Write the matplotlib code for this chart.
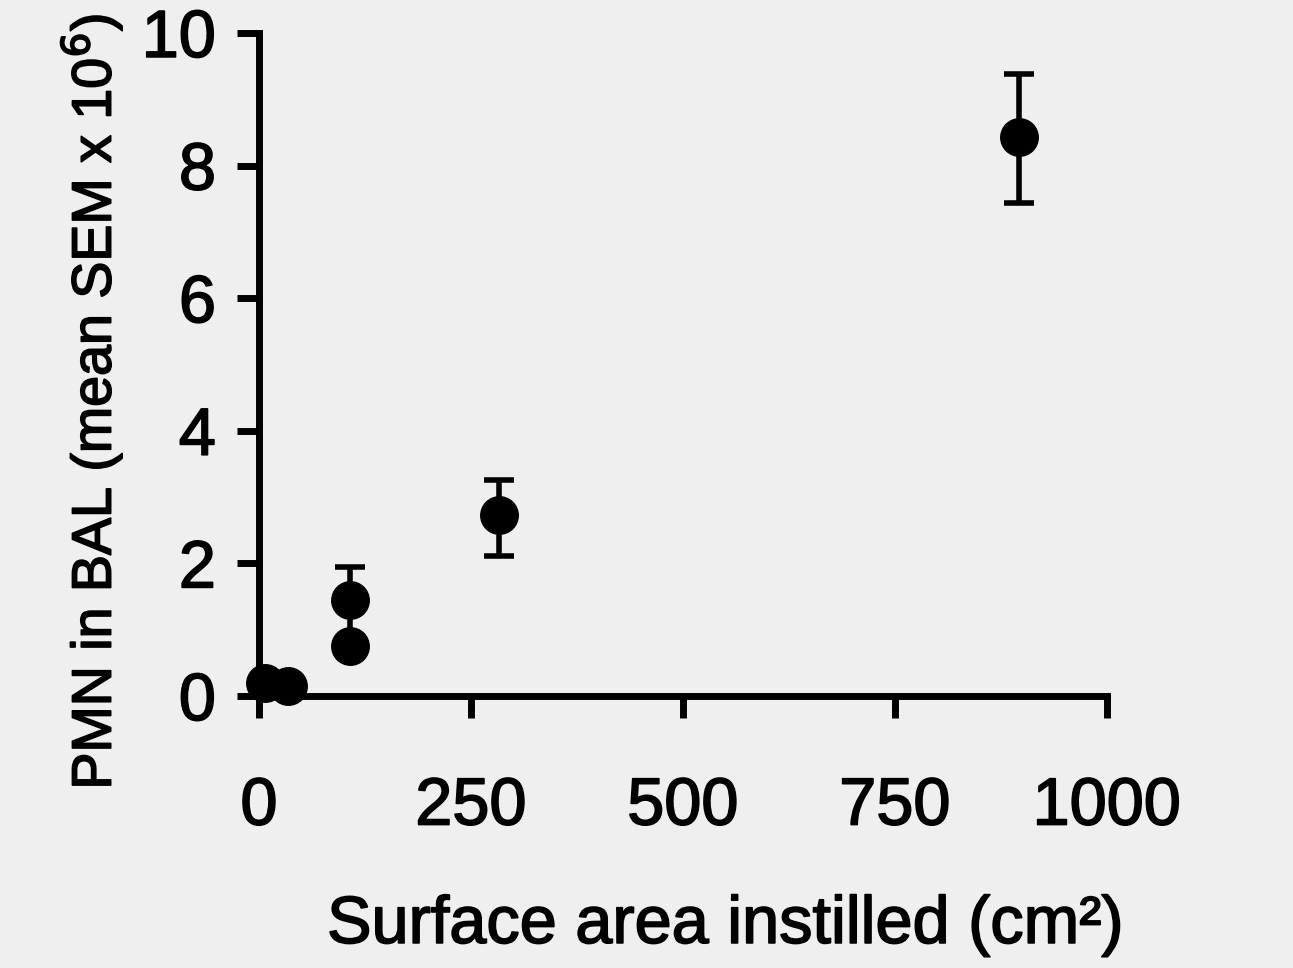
import matplotlib.pyplot as plt
import matplotlib.patheffects as pe

# Data
area = [7, 34, 107, 107, 283, 896]            # surface area instilled (cm2)
pmn = [0.20, 0.15, 1.45, 0.75, 2.73, 8.43]    # PMN in BAL (x 10^6)
sem_low = [0.0, 0.0, 0.60, 0.0, 0.62, 1.00]
sem_high = [0.0, 0.0, 0.50, 0.0, 0.53, 0.95]

x_ticks = [0, 250, 500, 750, 1000]
y_ticks = [0, 2, 4, 6, 8, 10]

plt.rcParams['font.family'] = ['Liberation Sans', 'DejaVu Sans']

# scanned print looks heavier than plain regular weight
ink = [pe.withStroke(linewidth=1.2, foreground='black')]

fig = plt.figure(figsize=(12.93, 9.68), dpi=100)
fig.patch.set_facecolor('#efefef')
ax = fig.add_axes([0.2003, 0.281, 0.6557, 0.685])
ax.set_facecolor('#efefef')

# error bars under the markers
for x, y, lo, hi in zip(area, pmn, sem_low, sem_high):
    if hi > 0:
        ax.errorbar(x, y, yerr=[[lo], [hi]], fmt='none', ecolor='black',
                    elinewidth=4, capsize=11, capthick=4, zorder=2)
ax.plot(area, pmn, 'o', color='black', markersize=27, zorder=3, clip_on=False)

ax.set_xlim(0, 1000)
ax.set_ylim(0, 10)
ax.set_xticks(x_ticks)
ax.set_yticks(y_ticks)

for s in ['top', 'right']:
    ax.spines[s].set_visible(False)
for s in ['left', 'bottom']:
    ax.spines[s].set_linewidth(5)

ax.tick_params(axis='both', direction='out', length=16, width=5, labelsize=48)
ax.tick_params(axis='x', pad=42)
ax.tick_params(axis='y', pad=15)
for lab in ax.get_xticklabels() + ax.get_yticklabels():
    lab.set_path_effects(ink)

ax.set_xlabel('Surface area instilled (cm\u00b2)', fontsize=48, path_effects=ink)
ax.xaxis.set_label_coords(0.55, -0.30)
ax.set_ylabel('PMN in BAL (mean SEM x 10$^6$)', fontsize=40, path_effects=ink)
ax.yaxis.set_label_coords(-0.157, 0.443)

fig.savefig('out.png', dpi=100, facecolor=fig.get_facecolor())
